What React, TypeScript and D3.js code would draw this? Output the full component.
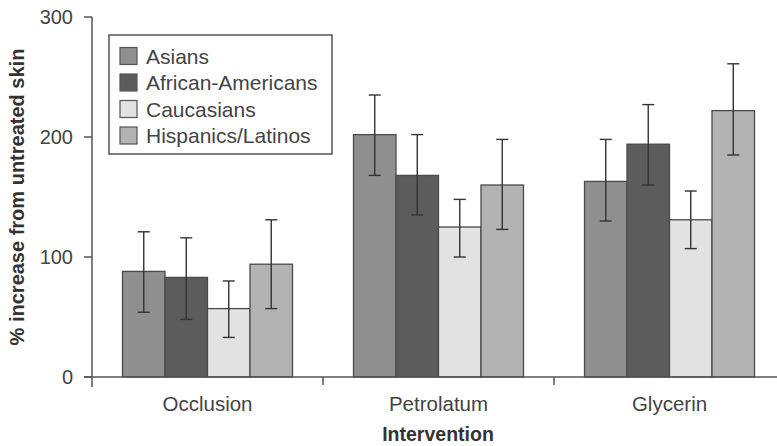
import React, { useEffect, useRef } from 'react';
import * as d3 from 'd3';

const interventions = ['Occlusion', 'Petrolatum', 'Glycerin'];
const groups = ['Asians', 'African-Americans', 'Caucasians', 'Hispanics/Latinos'];
const groupColors = ['#8f8f8f', '#5c5c5c', '#e2e2e2', '#b3b3b3'];

// mean, lower error, upper error per group, per intervention
const asiansMean = [88, 202, 163];
const asiansLow = [54, 168, 130];
const asiansHigh = [121, 235, 198];
const afroMean = [83, 168, 194];
const afroLow = [48, 135, 160];
const afroHigh = [116, 202, 227];
const caucMean = [57, 125, 131];
const caucLow = [33, 100, 107];
const caucHigh = [80, 148, 155];
const hispMean = [94, 160, 222];
const hispLow = [57, 123, 185];
const hispHigh = [131, 198, 261];

const yTicks = [0, 100, 200, 300];

const App: React.FC = () => {
  const svgRef = useRef<SVGSVGElement>(null);

  useEffect(() => {
    if (!svgRef.current) return;
    const svg = d3.select(svgRef.current);
    svg.selectAll('*').remove();

    const font = 'Liberation Sans, Arial, sans-serif';
    const left = 92;
    const right = 785;
    const top = 17;
    const bottom = 377;

    const means = [asiansMean, afroMean, caucMean, hispMean];
    const lows = [asiansLow, afroLow, caucLow, hispLow];
    const highs = [asiansHigh, afroHigh, caucHigh, hispHigh];

    const x0 = d3.scaleBand<string>().domain(interventions).range([left, right]);
    const x1 = d3.scaleBand<string>().domain(groups).range([0, 170]);
    const y = d3.scaleLinear().domain([0, 300]).range([bottom, top]);

    const g = svg.append('g');

    // bars
    interventions.forEach((iv, i) => {
      const gx = x0(iv)! + (x0.bandwidth() - 170) / 2;
      groups.forEach((grp, j) => {
        const bx = gx + x1(grp)!;
        g.append('rect')
          .attr('x', bx)
          .attr('y', y(means[j][i]))
          .attr('width', x1.bandwidth())
          .attr('height', bottom - y(means[j][i]))
          .attr('fill', groupColors[j])
          .attr('stroke', '#4a4a4a')
          .attr('stroke-width', 1.3);
      });
    });

    // error bars
    interventions.forEach((iv, i) => {
      const gx = x0(iv)! + (x0.bandwidth() - 170) / 2;
      groups.forEach((grp, j) => {
        const cx = gx + x1(grp)! + x1.bandwidth() / 2;
        const eg = g.append('g').attr('stroke', '#333').attr('stroke-width', 1.4);
        eg.append('line').attr('x1', cx).attr('x2', cx)
          .attr('y1', y(highs[j][i])).attr('y2', y(lows[j][i]));
        [highs[j][i], lows[j][i]].forEach(v => {
          eg.append('line').attr('x1', cx - 6).attr('x2', cx + 6)
            .attr('y1', y(v)).attr('y2', y(v));
        });
      });
    });

    // axes
    const axis = svg.append('g').attr('stroke', '#555').attr('stroke-width', 1.5);
    axis.append('line').attr('x1', left).attr('x2', left).attr('y1', top).attr('y2', bottom + 10);
    axis.append('line').attr('x1', left - 8).attr('x2', right).attr('y1', bottom).attr('y2', bottom);
    yTicks.forEach(t => {
      axis.append('line').attr('x1', left - 8).attr('x2', left).attr('y1', y(t)).attr('y2', y(t));
    });
    interventions.slice(1).forEach(iv => {
      axis.append('line').attr('x1', x0(iv)!).attr('x2', x0(iv)!)
        .attr('y1', bottom).attr('y2', bottom + 8);
    });

    svg.append('g').selectAll('text').data(yTicks).join('text')
      .attr('x', left - 19)
      .attr('y', d => y(d))
      .attr('dy', '0.36em')
      .attr('text-anchor', 'end')
      .attr('font-family', font)
      .attr('font-size', 20)
      .attr('fill', '#444')
      .text(d => d);

    svg.append('g').selectAll('text').data(interventions).join('text')
      .attr('x', d => x0(d)! + x0.bandwidth() / 2)
      .attr('y', 411)
      .attr('text-anchor', 'middle')
      .attr('font-family', font)
      .attr('font-size', 20.5)
      .attr('fill', '#444')
      .text(d => d);

    svg.append('text')
      .attr('x', 438)
      .attr('y', 441)
      .attr('text-anchor', 'middle')
      .attr('font-family', font)
      .attr('font-size', 19.5)
      .attr('font-weight', 'bold')
      .attr('fill', '#333')
      .text('Intervention');

    svg.append('text')
      .attr('transform', 'translate(24,197) rotate(-90)')
      .attr('text-anchor', 'middle')
      .attr('font-family', font)
      .attr('font-size', 20)
      .attr('font-weight', 'bold')
      .attr('fill', '#333')
      .text('% increase from untreated skin');

    // legend
    const lg = svg.append('g');
    lg.append('rect')
      .attr('x', 109).attr('y', 35).attr('width', 223).attr('height', 119)
      .attr('fill', '#fff').attr('stroke', '#555').attr('stroke-width', 1.5);
    groups.forEach((grp, j) => {
      const cy = 56 + j * 26.5;
      lg.append('rect')
        .attr('x', 120).attr('y', cy - 8.5).attr('width', 17).attr('height', 17)
        .attr('fill', groupColors[j]).attr('stroke', '#555').attr('stroke-width', 1.2);
      lg.append('text')
        .attr('x', 146).attr('y', cy).attr('dy', '0.36em')
        .attr('font-family', font).attr('font-size', 21).attr('fill', '#444')
        .text(grp);
    });
  }, []);

  return (
    <svg ref={svgRef} width={777} height={446}
      style={{ position: 'absolute', left: 0, top: 0, background: '#fff' }} />
  );
};

export default App;
